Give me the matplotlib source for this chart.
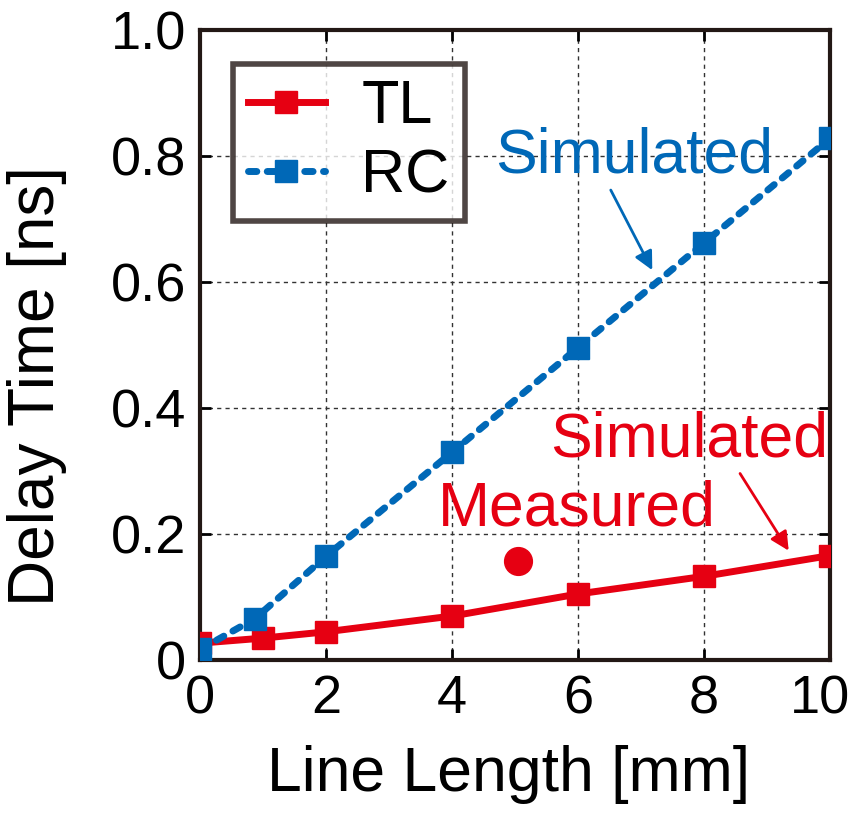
import numpy as np
import matplotlib.pyplot as plt
import matplotlib.transforms as mtransforms

plt.rcParams['font.family'] = ['Liberation Sans', 'DejaVu Sans']

# TL (transmission line) simulated delay
tl_x = [0, 1, 2, 4, 6, 8, 10]
tl_y = [0.027, 0.035, 0.045, 0.07, 0.105, 0.133, 0.166]

# RC line simulated delay
rc_x = [0, 0.87, 2, 4, 6, 8, 10]
rc_y = [0.017, 0.066, 0.165, 0.33, 0.496, 0.662, 0.828]

# measured TL point
meas_x = [5.05]
meas_y = [0.157]

red = '#e60012'
blue = '#0068b7'

fig = plt.figure(figsize=(8.52, 8.13), dpi=100)
ax = fig.add_axes([0.235, 0.188, 0.739, 0.775])

ax.plot(tl_x, tl_y, '-', color=red, lw=5, marker='s', ms=16, label='TL', zorder=3)
ax.plot(rc_x, rc_y, color=blue, lw=5, ls=(0, (1.2, 1.5)), dash_capstyle='round',
        marker='s', ms=16, label='RC', zorder=4)
ax.plot(meas_x, meas_y, 'o', color=red, ms=20, zorder=3)

ax.set_xlim(0, 10)
ax.set_ylim(0, 1.0)
ax.set_xticks([0, 2, 4, 6, 8, 10])
ax.set_yticks([0, 0.2, 0.4, 0.6, 0.8, 1.0])
ax.set_yticklabels(['0', '0.2', '0.4', '0.6', '0.8', '1.0'])
ax.grid(True, color='#333333', ls=(0, (3, 3)), lw=1)
ax.tick_params(direction='in', length=8, width=2, labelsize=39, top=True, right=True, pad=10)
for s in ax.spines.values():
    s.set_linewidth(3)
    s.set_color('#231815')

# keep the last x label inside the canvas
last = ax.get_xticklabels()[-1]
last.set_transform(last.get_transform() + mtransforms.ScaledTranslation(-0.1, 0, fig.dpi_scale_trans))

ax.set_xlabel('Line Length [mm]', fontsize=45)
ax.xaxis.set_label_coords(0.489, -0.135)
ax.set_ylabel('Delay Time [ns]', fontsize=46)
ax.yaxis.set_label_coords(-0.212, 0.435)

leg = ax.legend(loc='upper left', bbox_to_anchor=(0.052, 0.946), fontsize=44,
                frameon=True, fancybox=False, handlelength=1.25, borderpad=0.25,
                labelspacing=0.2, handletextpad=0.6, borderaxespad=0)
leg.get_frame().set_edgecolor('#231815')
leg.get_frame().set_linewidth(4)

# annotations
ax.text(4.68, 0.80, 'Simulated', color=blue, fontsize=45, ha='left', va='center')
ax.annotate('', xy=(7.2, 0.615), xytext=(6.5, 0.75),
            arrowprops=dict(arrowstyle='-|>', color=blue, lw=2, mutation_scale=28))
ax.text(5.56, 0.35, 'Simulated', color=red, fontsize=45, ha='left', va='center')
ax.annotate('', xy=(9.37, 0.17), xytext=(8.55, 0.30),
            arrowprops=dict(arrowstyle='-|>', color=red, lw=2, mutation_scale=28))
ax.text(5.98, 0.24, 'Measured', color=red, fontsize=45, ha='center', va='center')

fig.savefig('out.png', dpi=100)
